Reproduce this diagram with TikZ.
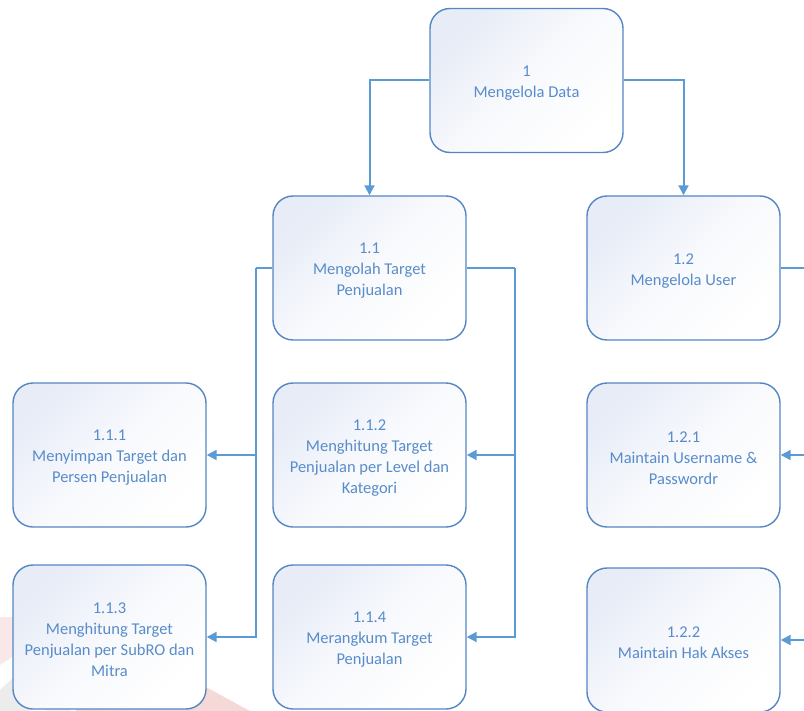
\documentclass[tikz,border=0pt]{standalone}
\usepackage{fontspec}
\setmainfont{Carlito}
\usetikzlibrary{arrows.meta}
\definecolor{boxline}{RGB}{84,134,196}
\definecolor{boxtext}{RGB}{88,140,202}
\definecolor{flow}{RGB}{91,155,213}
\definecolor{boxshade}{RGB}{231,236,247}
\tikzset{
  proc/.style={draw=boxline, line width=1.4bp, rounded corners=20bp,
    minimum width=193bp, minimum height=144bp, inner sep=0pt,
    top color=boxshade, bottom color=white, middle color=white!70!boxshade,
    shading angle=45},
  proctext/.style={align=center, text=boxtext, inner sep=0pt, yshift=-3bp,
    font=\fontsize{16.5bp}{21bp}\selectfont},
  flowline/.style={draw=flow, line width=2bp},
  flowarrow/.style={flowline, -{Triangle[length=10bp,width=10bp]}}
}
\begin{document}
\begin{tikzpicture}[x=1bp,y=-1bp]
\useasboundingbox (0,0) rectangle (804,711);
\clip (0,0) rectangle (804,711);

% faint logo in the lower left corner
\fill[red!75!black, opacity=0.15] (77,617) -- (250,711) -- (76,711) -- cycle;
\fill[red!80!black, opacity=0.09] (0,617) -- (72,617) -- (0,665) -- cycle;
\fill[gray, opacity=0.15] (74,620) -- (0,690) -- (0,711) -- (30,711) -- cycle;
\fill[gray, opacity=0.10] (74,620) -- (45,711) -- (70,711) -- cycle;

% processes
\node[proc, label={[proctext]center:{1\\Mengelola Data}}] (p1) at (526.5,80.5) {};
\node[proc, label={[proctext]center:{1.1\\Mengolah Target\\Penjualan}}] (p11) at (369.5,268) {};
\node[proc, label={[proctext]center:{1.2\\Mengelola User}}] (p12) at (683.5,268) {};
\node[proc, label={[proctext]center:{1.1.1\\Menyimpan Target dan\\Persen Penjualan}}] (p111) at (109.5,455) {};
\node[proc, label={[proctext]center:{1.1.2\\Menghitung Target\\Penjualan per Level dan\\Kategori}}] (p112) at (369.5,455) {};
\node[proc, label={[proctext]center:{1.1.3\\Menghitung Target\\Penjualan per SubRO dan\\Mitra}}] (p113) at (109.5,637) {};
\node[proc, label={[proctext]center:{1.1.4\\Merangkum Target\\Penjualan}}] (p114) at (369.5,637) {};
\node[proc, label={[proctext]center:{1.2.1\\Maintain Username \&\\Passwordr}}] (p121) at (683.5,455) {};
\node[proc, label={[proctext]center:{1.2.2\\Maintain Hak Akses}}] (p122) at (683.5,640) {};

% bus points
\coordinate (lbus) at (256,268);
\coordinate (rbus) at (515,268);
\coordinate (ubus) at (820,268);

% level 0 to level 1
\draw[flowarrow] (p1.west) -| (p11.north);
\draw[flowarrow] (p1.east) -| (p12.north);

% 1.1 to its sub processes
\draw[flowline] (p11.west) -- (lbus);
\draw[flowarrow] (lbus) |- (p111.east);
\draw[flowarrow] (lbus) |- (p113.east);
\draw[flowline] (p11.east) -- (rbus);
\draw[flowarrow] (rbus) |- (p112.east);
\draw[flowarrow] (rbus) |- (p114.east);

% 1.2 to its sub processes
\draw[flowline] (p12.east) -- (ubus);
\draw[flowarrow] (ubus) |- (p121.east);
\draw[flowarrow] (ubus) |- (p122.east);
\end{tikzpicture}
\end{document}
